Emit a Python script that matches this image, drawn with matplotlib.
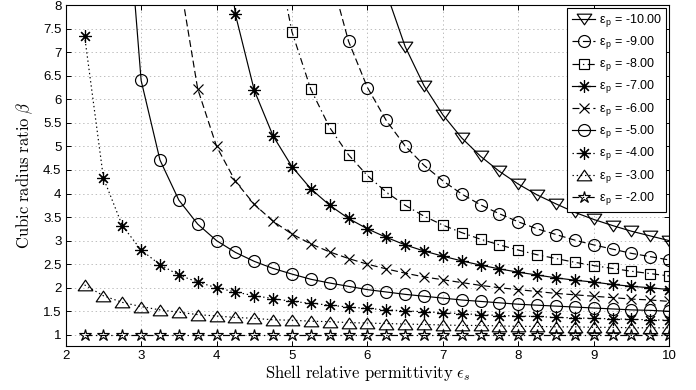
import numpy as np
import matplotlib
matplotlib.use('Agg')
import matplotlib.pyplot as plt
from matplotlib.path import Path

plt.rcParams['font.family'] = ['Liberation Sans', 'DejaVu Sans']
plt.rcParams['mathtext.fontset'] = 'cm'
plt.rcParams['lines.scale_dashes'] = False

# shell permittivity samples (marker positions)
eps_s = [2.25, 2.5, 2.75, 3.0, 3.25, 3.5, 3.75, 4.0, 4.25, 4.5, 4.75, 5.0,
         5.25, 5.5, 5.75, 6.0, 6.25, 6.5, 6.75, 7.0, 7.25, 7.5, 7.75, 8.0,
         8.25, 8.5, 8.75, 9.0, 9.25, 9.5, 9.75, 10.0]

# cubic radius ratio for each core permittivity, listed up to eps_s = 10
beta_m10 = [35.76, 18.6, 12.87, 10.0, 8.27, 7.12, 6.29, 5.67, 5.18, 4.79,
            4.47, 4.2, 3.97, 3.78, 3.60, 3.45, 3.32, 3.20, 3.10, 3.0]
beta_m9 = [30.56, 16.0, 11.14, 8.7, 7.23, 6.25, 5.55, 5.01, 4.6, 4.27, 3.99,
           3.76, 3.57, 3.4, 3.25, 3.13, 3.01, 2.91, 2.82, 2.73, 2.66, 2.59]
beta_m8 = [25.48, 13.46, 9.44, 7.43, 6.21, 5.4, 4.82, 4.38, 4.03, 3.75, 3.52,
           3.33, 3.17, 3.03, 2.91, 2.8, 2.70, 2.62, 2.54, 2.47, 2.41, 2.35,
           2.30, 2.25]
beta_m7 = [20.57, 11.0, 7.8, 6.19, 5.22, 4.57, 4.10, 3.75, 3.47, 3.25, 3.07,
           2.91, 2.78, 2.67, 2.57, 2.48, 2.40, 2.33, 2.27, 2.21, 2.16, 2.12,
           2.07, 2.03, 2.00, 1.96]
beta_m6 = [15.86, 8.64, 6.22, 5.0, 4.26, 3.77, 3.41, 3.14, 2.93, 2.76, 2.62,
           2.5, 2.40, 2.31, 2.23, 2.17, 2.11, 2.05, 2.00, 1.96, 1.92, 1.88,
           1.85, 1.82, 1.79, 1.76, 1.74, 1.71]
beta_m5 = [11.42, 6.4, 4.71, 3.86, 3.35, 3.0, 2.75, 2.56, 2.41, 2.29, 2.18,
           2.1, 2.03, 1.96, 1.91, 1.86, 1.82, 1.78, 1.74, 1.71, 1.68, 1.65,
           1.63, 1.61, 1.59, 1.57, 1.55, 1.53, 1.52, 1.5]
beta_m4 = [7.35, 4.33, 3.32, 2.8, 2.49, 2.27, 2.12, 2.0, 1.91, 1.83, 1.77,
           1.71, 1.67, 1.63, 1.59, 1.56, 1.53, 1.51, 1.49, 1.47, 1.45, 1.43,
           1.41, 1.4, 1.39, 1.37, 1.36, 1.35, 1.34, 1.33, 1.32, 1.31]
beta_m3 = [2.06, 1.83, 1.69, 1.6, 1.53, 1.48, 1.43, 1.4, 1.37, 1.35, 1.32,
           1.31, 1.29, 1.28, 1.26, 1.25, 1.24, 1.23, 1.22, 1.21, 1.20, 1.20,
           1.19, 1.18, 1.18, 1.17, 1.17, 1.16, 1.16, 1.15, 1.15, 1.15]
beta_m2 = [1.0] * 32

eps_p = [-10, -9, -8, -7, -6, -5, -4, -3, -2]
betas = [beta_m10, beta_m9, beta_m8, beta_m7, beta_m6, beta_m5, beta_m4,
         beta_m3, beta_m2]


def pad(vals):
    return [np.nan] * (len(eps_s) - len(vals)) + list(vals)


solid = '-'
dashed = (0, (5, 2.5))
dashdot = (0, (5, 2.5, 1, 2.5))
dotted = (0, (1, 2))

closed = [Path.MOVETO, Path.LINETO, Path.LINETO, Path.CLOSEPOLY]
tri_down = Path([(-1, 0.73), (1, 0.73), (0, -0.73), (-1, 0.73)], closed)
tri_up = Path([(-1, -0.73), (1, -0.73), (0, 0.73), (-1, -0.73)], closed)
aster = (8, 2, 0)

styles = [
    (solid, tri_down, 10.5),
    (dashed, 'o', 8.6),
    (dashdot, 's', 7.2),
    (solid, aster, 9.0),
    (dashed, 'x', 7.5),
    (solid, 'o', 8.6),
    (dotted, aster, 9.0),
    (dotted, tri_up, 10.5),
    (dashdot, '*', 9.0),
]

fig = plt.figure(figsize=(6.96, 3.9), dpi=100)
ax = fig.add_axes([0.0944, 0.113, 0.867, 0.874])

for p, b, (ls, mk, ms) in zip(eps_p, betas, styles):
    ax.plot(eps_s, pad(b), color='black', linestyle=ls, linewidth=0.85,
            marker=mk, markersize=ms, markerfacecolor='none',
            markeredgecolor='black', markeredgewidth=0.85,
            label='ε$_{\\mathregular{p}}$ = %.2f' % p)

ax.set_xlim(2, 10)
ax.set_ylim(0.765, 8)
ax.set_xticks(np.arange(2, 11, 1))
ax.set_yticks(np.arange(1, 8.01, 0.5))
ax.set_yticklabels(['1', '1.5', '2', '2.5', '3', '3.5', '4', '4.5', '5',
                    '5.5', '6', '6.5', '7', '7.5', '8'])
ax.grid(True, color='0.7', linestyle=(0, (1, 2)), linewidth=0.6)
ax.tick_params(direction='in', length=3.5, width=0.7, labelsize=9.5,
               top=True, right=True, pad=3)
for sp in ax.spines.values():
    sp.set_linewidth(0.8)

ax.set_xlabel(r'$\mathrm{Shell\ relative\ permittivity}\ \epsilon_s$',
              fontsize=12, labelpad=1)
ax.set_ylabel(r'$\mathrm{Cubic\ radius\ ratio}\ \beta$', fontsize=12,
              labelpad=6)

leg = ax.legend(loc='upper right', fontsize=9, numpoints=1,
                handlelength=1.9, handletextpad=0.25, labelspacing=0.42,
                borderaxespad=0.25, borderpad=0.35, fancybox=False,
                framealpha=1, edgecolor='black')
leg.get_frame().set_linewidth(0.8)

plt.savefig('out.png', dpi=100)
